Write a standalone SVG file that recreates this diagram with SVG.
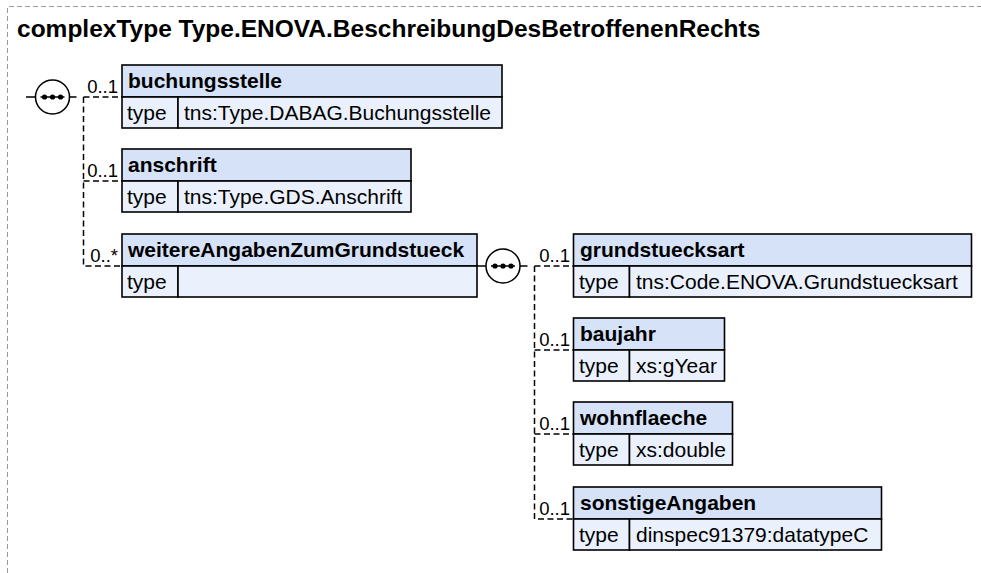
<svg xmlns="http://www.w3.org/2000/svg" width="981" height="573" viewBox="0 0 981 573">
<style>
.frame{fill:none;stroke:#9a9a9a;stroke-width:1;stroke-dasharray:5,3}
.title{font-family:"Liberation Sans",Arial,sans-serif;font-weight:bold;font-size:24.5px;fill:#000}
.hdr{fill:#d5e2f8;stroke:#000;stroke-width:1.6}
.row{fill:#eaf1fd;stroke:#000;stroke-width:1.6}
.name{font-family:"Liberation Sans",Arial,sans-serif;font-weight:bold;font-size:21px;fill:#000}
.txt{font-family:"Liberation Sans",Arial,sans-serif;font-size:21px;fill:#000}
.card{font-family:"Liberation Sans",Arial,sans-serif;font-size:18.5px;fill:#000;text-anchor:end}
.solid{fill:none;stroke:#000;stroke-width:1.5}
.dash{fill:none;stroke:#000;stroke-width:1.5;stroke-dasharray:6,3.5}
.comp{fill:#fff;stroke:#000;stroke-width:1.5}
</style>
<defs>
<g id="seq">
<circle class="comp" cx="0" cy="0" r="17"/>
<line x1="-12" y1="0" x2="12" y2="0" stroke="#000" stroke-width="1.5"/>
<circle cx="-8" cy="0" r="2.6" fill="#000"/>
<circle cx="0" cy="0" r="2.6" fill="#000"/>
<circle cx="8" cy="0" r="2.6" fill="#000"/>
</g>
</defs>
<rect width="981" height="573" fill="#fff"/>
<path class="frame" d="M7.5 573 V6.5 H981"/>
<text class="title" x="17" y="37">complexType Type.ENOVA.BeschreibungDesBetroffenenRechts</text>

<g id="connectors">
<path class="solid" d="M26 97 H35.5 M69.5 97 H76.5"/>
<path class="dash" d="M83.5 97 H122 M83.5 97 V266 H122 M83.5 181 H122"/>
<path class="solid" d="M477 266 H486 M520 266 H527.5"/>
<path class="dash" d="M534.5 266 H573.5 M534.5 266 V519 H573.5 M534.5 350 H573.5 M534.5 434 H573.5"/>
<text class="card" x="118" y="93">0..1</text>
<text class="card" x="118" y="177">0..1</text>
<text class="card" x="118" y="262">0..*</text>
<text class="card" x="570" y="262">0..1</text>
<text class="card" x="570" y="346">0..1</text>
<text class="card" x="570" y="430">0..1</text>
<text class="card" x="570" y="515">0..1</text>
</g>

<g id="seq1"><use href="#seq" x="52.5" y="97"/></g>
<g id="seq2"><use href="#seq" x="503" y="266"/></g>

<g id="buchungsstelle">
<rect class="hdr" x="122" y="65" width="380" height="32"/>
<rect class="row" x="122" y="97" width="56" height="31"/>
<rect class="row" x="178" y="97" width="324" height="31"/>
<text class="name" x="128" y="88">buchungsstelle</text>
<text class="txt" x="127" y="120">type</text>
<text class="txt" x="184" y="120">tns:Type.DABAG.Buchungsstelle</text>
</g>

<g id="anschrift">
<rect class="hdr" x="122" y="149" width="289" height="32"/>
<rect class="row" x="122" y="181" width="56" height="31"/>
<rect class="row" x="178" y="181" width="233" height="31"/>
<text class="name" x="128" y="172">anschrift</text>
<text class="txt" x="127" y="204">type</text>
<text class="txt" x="184" y="204">tns:Type.GDS.Anschrift</text>
</g>

<g id="weitereAngabenZumGrundstueck">
<rect class="hdr" x="122" y="234" width="355" height="32"/>
<rect class="row" x="122" y="266" width="56" height="31"/>
<rect class="row" x="178" y="266" width="299" height="31"/>
<text class="name" x="128" y="257">weitereAngabenZumGrundstueck</text>
<text class="txt" x="127" y="289">type</text>
</g>

<g id="grundstuecksart">
<rect class="hdr" x="573.5" y="234" width="398" height="32"/>
<rect class="row" x="573.5" y="266" width="56" height="31"/>
<rect class="row" x="629.5" y="266" width="342" height="31"/>
<text class="name" x="580" y="257">grundstuecksart</text>
<text class="txt" x="579" y="289">type</text>
<text class="txt" x="636" y="289">tns:Code.ENOVA.Grundstuecksart</text>
</g>

<g id="baujahr">
<rect class="hdr" x="573.5" y="318" width="151" height="32"/>
<rect class="row" x="573.5" y="350" width="56" height="31"/>
<rect class="row" x="629.5" y="350" width="95" height="31"/>
<text class="name" x="580" y="341">baujahr</text>
<text class="txt" x="579" y="373">type</text>
<text class="txt" x="636" y="373">xs:gYear</text>
</g>

<g id="wohnflaeche">
<rect class="hdr" x="573.5" y="402" width="159" height="32"/>
<rect class="row" x="573.5" y="434" width="56" height="31"/>
<rect class="row" x="629.5" y="434" width="103" height="31"/>
<text class="name" x="580" y="425">wohnflaeche</text>
<text class="txt" x="579" y="457">type</text>
<text class="txt" x="636" y="457">xs:double</text>
</g>

<g id="sonstigeAngaben">
<rect class="hdr" x="573.5" y="487" width="308" height="32"/>
<rect class="row" x="573.5" y="519" width="56" height="31"/>
<rect class="row" x="629.5" y="519" width="252" height="31"/>
<text class="name" x="580" y="510">sonstigeAngaben</text>
<text class="txt" x="579" y="542">type</text>
<text class="txt" x="636" y="542">dinspec91379:datatypeC</text>
</g>
</svg>
